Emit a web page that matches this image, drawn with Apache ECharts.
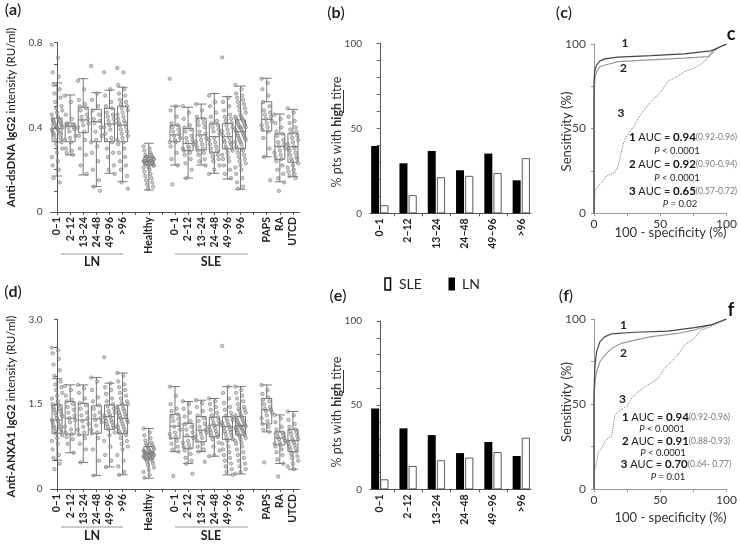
<!DOCTYPE html>
<html><head><meta charset="utf-8">
<script src="https://cdn.jsdelivr.net/npm/echarts@6/dist/echarts.min.js"></script>
<style>html,body{margin:0;padding:0;background:#fff}#c{width:740px;height:544px}</style>
</head><body><div id="c"></div>
<script>
// ---------- categories ----------
const boxSlotLabels = ['0–1','2–12','13–24','24–48','49–96','>96','','Healthy','','0–1','2–12','13–24','24–48','49–96','>96','','PAPS','RA','UTCD'];
const groupSlots = [0,1,2,3,4,5,7,9,10,11,12,13,14,16,17,18];
const barCats = ['0–1','2–12','13–24','24–48','49–96','>96'];
const yTicksA = ['0','0.4','0.8'];
const yTicksD = ['0','1.5','3.0'];

// ---------- panel (a): anti-dsDNA IgG2, individual values ----------
const a_LN01 = [0.79,0.73,0.66,0.64,0.6,0.58,0.56,0.54,0.52,0.5,0.49,0.48,0.47,0.46,0.45,0.44,0.44,0.43,0.43,0.42,0.42,0.41,0.41,0.4,0.4,0.4,0.39,0.39,0.38,0.38,0.37,0.37,0.36,0.35,0.34,0.33,0.32,0.3,0.28,0.26,0.24,0.22,0.2,0.16,0.14];
const a_LN212 = [0.55,0.52,0.46,0.44,0.42,0.41,0.41,0.4,0.4,0.39,0.38,0.36,0.35,0.34,0.33,0.3,0.29,0.28,0.27];
const a_LN1324 = [0.62,0.58,0.53,0.51,0.5,0.49,0.48,0.46,0.45,0.44,0.43,0.42,0.41,0.4,0.38,0.36,0.34,0.3,0.27,0.22,0.18];
const a_LN2448 = [0.69,0.56,0.53,0.5,0.48,0.46,0.44,0.43,0.42,0.4,0.38,0.36,0.34,0.33,0.31,0.28,0.24,0.2,0.15,0.12,0.1];
const a_LN4996 = [0.66,0.58,0.55,0.52,0.5,0.49,0.47,0.46,0.45,0.44,0.43,0.42,0.41,0.4,0.39,0.37,0.35,0.34,0.33,0.3,0.28,0.26,0.22,0.2,0.18];
const a_LN96 = [0.68,0.66,0.6,0.58,0.56,0.55,0.53,0.52,0.51,0.5,0.49,0.48,0.47,0.46,0.45,0.44,0.43,0.42,0.42,0.41,0.4,0.39,0.38,0.37,0.36,0.35,0.34,0.33,0.32,0.3,0.28,0.26,0.24,0.22,0.2,0.17,0.14,0.11];
const a_H = [0.31,0.3,0.29,0.28,0.27,0.27,0.26,0.26,0.26,0.25,0.25,0.25,0.25,0.24,0.24,0.24,0.24,0.24,0.23,0.23,0.23,0.23,0.22,0.22,0.22,0.21,0.21,0.2,0.19,0.18,0.17,0.16,0.15,0.14,0.13,0.12,0.11];
const a_S01 = [0.63,0.5,0.48,0.45,0.42,0.41,0.4,0.39,0.38,0.37,0.36,0.35,0.34,0.33,0.33,0.31,0.28,0.25,0.22,0.13];
const a_S212 = [0.5,0.47,0.44,0.41,0.4,0.39,0.38,0.36,0.35,0.34,0.33,0.32,0.31,0.3,0.3,0.29,0.28,0.27,0.25,0.23,0.2,0.16];
const a_S1324 = [0.51,0.48,0.45,0.44,0.43,0.42,0.41,0.4,0.38,0.37,0.36,0.35,0.34,0.33,0.32,0.31,0.3,0.29,0.28,0.27,0.25,0.24,0.22];
const a_S2448 = [0.55,0.52,0.5,0.47,0.45,0.43,0.42,0.41,0.4,0.39,0.38,0.37,0.35,0.34,0.33,0.32,0.31,0.3,0.29,0.28,0.27,0.26,0.25,0.24,0.22,0.2,0.18];
const a_S4996 = [0.73,0.54,0.52,0.5,0.48,0.46,0.45,0.44,0.43,0.42,0.41,0.4,0.39,0.38,0.37,0.36,0.35,0.34,0.33,0.33,0.32,0.31,0.3,0.3,0.29,0.28,0.27,0.26,0.25,0.24,0.22,0.2,0.18,0.16];
const a_S96 = [0.6,0.58,0.56,0.55,0.54,0.53,0.52,0.51,0.5,0.49,0.48,0.47,0.46,0.45,0.45,0.44,0.44,0.43,0.43,0.42,0.42,0.41,0.41,0.4,0.4,0.4,0.39,0.39,0.38,0.38,0.37,0.37,0.36,0.36,0.35,0.35,0.34,0.34,0.33,0.33,0.32,0.31,0.3,0.3,0.29,0.28,0.27,0.26,0.25,0.24,0.23,0.22,0.21,0.2,0.18,0.16,0.14,0.12,0.11];
const a_PAPS = [0.63,0.61,0.58,0.55,0.52,0.5,0.48,0.47,0.46,0.45,0.44,0.43,0.42,0.41,0.4,0.39,0.38,0.35,0.3,0.26,0.15];
const a_RA = [0.46,0.44,0.42,0.4,0.38,0.37,0.36,0.34,0.33,0.32,0.31,0.3,0.29,0.28,0.27,0.26,0.25,0.24,0.22,0.2,0.18,0.16,0.14,0.1];
const a_UTCD = [0.49,0.47,0.45,0.43,0.42,0.4,0.39,0.38,0.37,0.36,0.35,0.34,0.33,0.32,0.31,0.3,0.3,0.29,0.28,0.27,0.26,0.25,0.25,0.24,0.23,0.22,0.21,0.2,0.19,0.18,0.17,0.16];
// box stats [low whisker, Q1, median, Q3, high whisker]
const a_box = [
  [0.17,0.332,0.395,0.443,0.61],[0.27,0.332,0.406,0.42,0.553],[0.175,0.375,0.435,0.495,0.63],
  [0.12,0.332,0.427,0.485,0.564],[0.183,0.332,0.416,0.49,0.576],[0.143,0.332,0.41,0.5,0.59],
  [0.104,0.222,0.24,0.26,0.325],
  [0.222,0.332,0.364,0.41,0.5],[0.16,0.29,0.324,0.395,0.495],[0.222,0.293,0.364,0.443,0.51],
  [0.183,0.282,0.356,0.416,0.56],[0.156,0.298,0.356,0.419,0.545],[0.107,0.3,0.38,0.435,0.595],
  [0.261,0.383,0.438,0.521,0.632],[0.143,0.249,0.309,0.369,0.463],[0.167,0.235,0.309,0.372,0.485]
];

// ---------- panel (d): anti-ANXA1 IgG2, individual values ----------
const d_LN01 = [2.5,2.45,2.4,2.3,2.2,2.1,2.0,1.9,1.85,1.8,1.75,1.7,1.65,1.6,1.55,1.5,1.48,1.45,1.42,1.4,1.38,1.35,1.32,1.3,1.28,1.25,1.22,1.2,1.18,1.15,1.12,1.1,1.08,1.05,1.02,1.0,0.98,0.95,0.9,0.85,0.8,0.7,0.6,0.55,0.45,0.35];
const d_LN212 = [1.82,1.75,1.65,1.58,1.55,1.5,1.45,1.4,1.35,1.3,1.25,1.22,1.18,1.1,1.05,1.0,0.97,0.92,0.88,0.8,0.64];
const d_LN1324 = [1.84,1.78,1.7,1.6,1.52,1.48,1.42,1.35,1.3,1.25,1.2,1.15,1.1,1.05,1.0,0.96,0.9,0.8,0.7,0.47];
const d_LN2448 = [1.97,1.9,1.75,1.62,1.55,1.48,1.42,1.35,1.3,1.25,1.22,1.18,1.12,1.05,1.0,0.98,0.9,0.7,0.5,0.24];
const d_LN4996 = [2.33,1.87,1.8,1.75,1.68,1.6,1.55,1.5,1.46,1.42,1.38,1.35,1.32,1.3,1.28,1.25,1.22,1.2,1.18,1.15,1.12,1.1,1.08,1.05,1.0,0.95,0.85,0.75,0.6,0.5,0.39];
const d_LN96 = [2.05,2.0,1.9,1.85,1.8,1.75,1.7,1.65,1.6,1.55,1.52,1.5,1.48,1.45,1.42,1.4,1.38,1.35,1.32,1.3,1.28,1.25,1.22,1.2,1.18,1.15,1.12,1.1,1.08,1.05,1.02,1.0,0.98,0.95,0.9,0.85,0.8,0.75,0.7,0.6,0.5,0.4,0.3,0.25];
const d_H = [1.07,1.0,0.95,0.9,0.86,0.82,0.8,0.78,0.76,0.74,0.72,0.7,0.7,0.68,0.67,0.66,0.65,0.64,0.64,0.63,0.62,0.62,0.61,0.6,0.6,0.59,0.58,0.57,0.56,0.55,0.54,0.53,0.52,0.5,0.48,0.45,0.42,0.38,0.34,0.3,0.25,0.2];
const d_S01 = [1.81,1.65,1.5,1.42,1.38,1.32,1.28,1.24,1.2,1.15,1.1,1.05,1.0,0.97,0.93,0.9,0.85,0.8,0.75,0.7,0.66,0.23];
const d_S212 = [1.55,1.5,1.42,1.35,1.28,1.2,1.15,1.1,1.05,1.0,0.95,0.9,0.85,0.82,0.78,0.75,0.72,0.68,0.62,0.55,0.5,0.45,0.27];
const d_S1324 = [1.57,1.52,1.45,1.38,1.3,1.25,1.2,1.15,1.1,1.05,1.02,1.0,0.97,0.93,0.9,0.85,0.8,0.75,0.7,0.66,0.48];
const d_S2448 = [1.6,1.55,1.5,1.45,1.4,1.35,1.3,1.27,1.24,1.2,1.17,1.14,1.12,1.1,1.08,1.05,1.02,1.0,0.97,0.94,0.92,0.88,0.82,0.75,0.68,0.6,0.58];
const d_S4996 = [2.53,1.81,1.7,1.6,1.52,1.45,1.4,1.35,1.3,1.28,1.25,1.22,1.2,1.17,1.14,1.12,1.1,1.08,1.05,1.02,1.0,0.97,0.94,0.9,0.88,0.85,0.8,0.75,0.7,0.65,0.6,0.55,0.5,0.45,0.4,0.35,0.3,0.25];
const d_S96 = [1.81,1.75,1.7,1.65,1.6,1.55,1.5,1.45,1.42,1.4,1.38,1.35,1.32,1.3,1.28,1.26,1.24,1.22,1.2,1.18,1.16,1.14,1.13,1.12,1.11,1.1,1.09,1.08,1.06,1.05,1.04,1.02,1.0,0.98,0.96,0.95,0.93,0.9,0.88,0.85,0.82,0.8,0.75,0.7,0.65,0.6,0.55,0.5,0.45,0.4,0.35,0.3,0.27];
const d_PAPS = [1.84,1.75,1.68,1.62,1.58,1.55,1.5,1.45,1.42,1.4,1.38,1.35,1.3,1.25,1.2,1.15,1.1,1.05,1.01,0.47];
const d_RA = [1.31,1.25,1.18,1.1,1.05,1.0,0.98,0.95,0.92,0.9,0.88,0.85,0.82,0.8,0.78,0.75,0.7,0.65,0.6,0.52,0.45,0.22];
const d_UTCD = [1.37,1.3,1.22,1.15,1.1,1.05,1.02,1.0,0.97,0.94,0.9,0.88,0.86,0.84,0.82,0.8,0.78,0.75,0.72,0.7,0.66,0.62,0.58,0.55,0.5,0.45,0.4,0.35];
const d_box = [
  [0.51,0.984,1.22,1.485,1.95],[0.64,0.97,1.25,1.544,1.84],[0.47,0.955,1.22,1.515,1.84],
  [0.24,0.984,1.24,1.47,1.97],[0.39,1.055,1.28,1.485,1.87],[0.25,0.984,1.25,1.485,2.05],
  [0.19,0.54,0.64,0.75,1.07],
  [0.66,0.896,1.11,1.32,1.81],[0.45,0.72,0.925,1.16,1.545],[0.66,0.837,1.04,1.28,1.57],
  [0.58,0.925,1.13,1.27,1.6],[0.25,0.878,1.1,1.28,1.81],[0.265,0.955,1.12,1.28,1.81],
  [1.01,1.15,1.4,1.6,1.84],[0.45,0.78,0.9,1.01,1.31],[0.35,0.66,0.855,1.055,1.37]
];

// ---------- panels (b), (e): % pts with high titre ----------
const b_LN = [39.6,29.4,36.7,25.3,35.1,19.4];
const b_SLE = [4.7,10.6,21.2,22.0,23.7,32.4];
const e_LN = [48.0,36.2,32.2,21.5,28.1,19.8];
const e_SLE = [5.9,13.8,17.2,18.8,22.1,30.6];

// ---------- panels (c), (f): ROC curves [100-specificity, sensitivity] ----------
const c_roc1 = [[0,0],[0,78],[0.3,82],[0.8,85],[2,87.6],[4.5,90],[8,91.2],[18,92.2],[43,93.1],[68,94.1],[88,95.9],[93,97.5],[100,100]];
const c_roc2 = [[0,0],[0,70],[0.75,79.8],[2,83.7],[4.5,86.7],[10.75,88],[18,89.6],[43,90.6],[68,91.6],[86,92.5],[89.5,95.5],[93,97.8],[100,100]];
const c_roc3 = [[0,0],[0.75,13],[3.25,16],[7,19],[9.5,22],[15.75,24],[18.25,28],[22,40.6],[23.25,43.5],[25.75,46.5],[30.75,52],[33.25,56],[40.75,64],[45.75,68],[50.75,72],[55.75,78],[63.25,80.8],[68.25,83.7],[75.75,85.7],[83.25,89.6],[88.25,93.5],[93.25,97.5],[100,100]];
const f_roc1 = [[0,0],[0,55],[0.25,63.1],[0.75,72.9],[2,80.8],[4.5,86.7],[8.25,89.6],[13.25,91.2],[30.75,92.2],[55.75,92.9],[75.75,94.9],[88.25,96.5],[100,100]];
const f_roc2 = [[0,0],[0,52],[0.75,63],[2,69],[4.5,75],[8.25,78.8],[13.25,82.7],[20.75,85.7],[30.75,87.6],[43.25,89.6],[63.25,91.6],[75.75,93.5],[88.25,96.5],[100,100]];
const f_roc3 = [[0,0],[0.25,10],[2,16],[3.25,22],[5.75,24],[8.25,28],[10.75,30],[13.25,30.8],[15.75,43.5],[18.25,45.5],[25.75,49.4],[28.25,53.3],[33.25,57.3],[40.75,61.2],[48.25,65],[53.25,71],[58.25,75],[63.25,78.8],[68.25,84.7],[75.75,88.6],[80.75,93.5],[88.25,95.5],[100,100]];

// ---------- build ----------
const FONT = 'Lato';
const aGroups = [a_LN01,a_LN212,a_LN1324,a_LN2448,a_LN4996,a_LN96,a_H,a_S01,a_S212,a_S1324,a_S2448,a_S4996,a_S96,a_PAPS,a_RA,a_UTCD];
const dGroups = [d_LN01,d_LN212,d_LN1324,d_LN2448,d_LN4996,d_LN96,d_H,d_S01,d_S212,d_S1324,d_S2448,d_S4996,d_S96,d_PAPS,d_RA,d_UTCD];

function boxData(stats){
  const out = boxSlotLabels.map(()=> '-');
  stats.forEach((s,gi)=>{ out[groupSlots[gi]] = s; });
  return out;
}
function dots(groups){
  const pts = [];
  groups.forEach((g,gi)=>{
    const s = groupSlots[gi];
    g.forEach((v,i)=>{ pts.push([s + (((i*7)%13)/12 - 0.5)*0.8, v]); });
  });
  return pts;
}
const slotIdx = boxSlotLabels.map((_,i)=>String(i));

const axisLineDark = {lineStyle:{color:'#555', width:1}};
const axisLineGrey = {lineStyle:{color:'#999', width:1}};

function boxCatAxis(grid){
  return {type:'category', gridIndex:grid, data:slotIdx, boundaryGap:true,
    axisLine:axisLineDark, axisTick:{show:true, interval:0, alignWithLabel:true, length:3, lineStyle:{color:'#555'}},
    axisLabel:{interval:0, rotate:90, margin:5, fontFamily:FONT, fontWeight:'bold', fontSize:10.5, color:'#222',
      formatter:(v,i)=>boxSlotLabels[i]},
    splitLine:{show:false}};
}
function hiddenX(grid){ return {type:'value', gridIndex:grid, min:-0.5, max:18.5, show:false}; }
function barX(grid){
  return {type:'value', gridIndex:grid, min:-0.345, max:5.345, axisLine:{onZero:false, ...axisLineDark},
    axisTick:{show:true, length:3, customValues:[0.5,1.5,2.5,3.5,4.5], lineStyle:{color:'#555'}},
    axisLabel:{customValues:[0,1,2,3,4,5], rotate:90, margin:5, fontFamily:FONT, fontWeight:'bold', fontSize:10.5, color:'#222',
      formatter:(v)=>barCats[Math.round(v)]},
    splitLine:{show:false}};
}
function rocX(grid){
  return {type:'value', gridIndex:grid, min:0, max:100, interval:25, axisLine:axisLineGrey,
    axisTick:{show:true, length:3, lineStyle:{color:'#999'}},
    axisLabel:{fontFamily:FONT, fontSize:12, color:'#333', margin:5, formatter:(v)=> v%50===0? String(v):''},
    splitLine:{show:false}};
}
function yVal(grid, max, interval, fmt, lineCfg, fs){
  return {type:'value', gridIndex:grid, min:0, max:max, interval:interval, axisLine:{show:true, ...lineCfg},
    axisTick:{show:true, length:3, lineStyle:{color:lineCfg.lineStyle.color}},
    axisLabel:{fontFamily:FONT, fontSize:fs, color:'#444', margin:8, formatter:fmt},
    splitLine:{show:false}};
}
const fmtA = v => { const r = Math.round(v*10); return r===0?yTicksA[0]:r===4?yTicksA[1]:r===8?yTicksA[2]:''; };
const fmtD = v => { const r = Math.round(v*10); return r===0?yTicksD[0]:r===15?yTicksD[1]:r===30?yTicksD[2]:''; };
const fmtP = v => (v===0||v===50||v===100)? String(v):'';

const boxStyle = {color:'rgba(255,255,255,0)', borderColor:'#555', borderWidth:0.8};
const dotStyle = {color:'rgba(170,170,170,0.7)', borderColor:'#5e5e5e', borderWidth:0.6};

function barSeries(name, data, xi, yi, isLN){
  return {type:'bar', name:name, xAxisIndex:xi, yAxisIndex:yi, barWidth:8, barGap:'15%',
    data:data.map((v,i)=>[i,v]),
    itemStyle: isLN ? {color:'#000'} : {color:'#fff', borderColor:'#333', borderWidth:0.8}};
}
function rocSeries(data, xi, yi, color, w, type){
  return {type:'line', xAxisIndex:xi, yAxisIndex:yi, data:data, showSymbol:false, symbol:'none',
    lineStyle:{color:color, width:w, type:type}, z:3};
}

// text helpers
function txt(x, y, text, opts){
  opts = opts || {};
  return {type:'text', x:x, y:y, rotation:opts.rot||0, silent:true, z:100,
    style:{text:text, fontFamily:FONT, fontSize:opts.fs||12, fontWeight:opts.fw||'normal', fill:opts.fill||'#222',
      align:opts.align||'center', verticalAlign:'middle', textAlign:opts.align||'center', textVerticalAlign:'middle',
      rich:opts.rich}};
}
function line(x1,y1,x2,y2,color,w){
  return {type:'line', silent:true, z:100, shape:{x1:x1,y1:y1,x2:x2,y2:y2}, style:{stroke:color||'#888', lineWidth:w||1}};
}
const aucRich = {
  b:{fontWeight:'bold', fontFamily:FONT, fontSize:11.5, fill:'#111', color:'#111'},
  n:{fontFamily:FONT, fontSize:11, fill:'#222', color:'#222'},
  s:{fontFamily:FONT, fontSize:8.5, fill:'#777', color:'#777'}
};
const pRich = {i:{fontStyle:'italic', fontFamily:FONT, fontSize:9.5, color:'#333'}, n:{fontFamily:FONT, fontSize:9.5, color:'#333'}};
function panelLabel(x,y,l){ return txt(x,y,'{n|(}{b|'+l+'}{n|)}',{rich:{n:{fontFamily:FONT,fontSize:16,color:'#111'},b:{fontFamily:FONT,fontSize:16,fontWeight:'bold',color:'#111'}}}); }
function auc(x,y,num,auc,ci){ return txt(x,y,'{b|'+num+'}{n| AUC = }{b|'+auc+'}{s|('+ci+')}',{rich:aucRich}); }
function pval(x,y,s){ return txt(x,y,'{i|P}{n|'+s+'}',{rich:pRich}); }
const nameRich = {b:{fontWeight:'bold',fontFamily:FONT,fontSize:11.6}};

const graphics = [
  panelLabel(13,10,'a'), panelLabel(336,13,'b'), panelLabel(564,13,'c'),
  panelLabel(13,292,'d'), panelLabel(338,296,'e'), panelLabel(566,296,'f'),
  txt(731,34,'c',{fs:18,fw:'bold',fill:'#111'}), txt(731,310,'f',{fs:18,fw:'bold',fill:'#111'}),
  // y axis names
  txt(11,117.5,'{b|Anti-dsDNA IgG2} intensity (RU/ml)',{rot:Math.PI/2, fs:11.6, rich:nameRich}),
  txt(11,406.5,'{b|Anti-ANXA1 IgG2} intensity (RU/ml)',{rot:Math.PI/2, fs:11.6, rich:nameRich}),
  txt(337,132,'% pts with {b|high} titre',{rot:Math.PI/2, fs:12.5, fill:'#333', rich:{b:{fontWeight:'bold',fontFamily:FONT,fontSize:12.5}}}),
  txt(337,412,'% pts with {b|high} titre',{rot:Math.PI/2, fs:12.5, fill:'#333', rich:{b:{fontWeight:'bold',fontFamily:FONT,fontSize:12.5}}}),
  line(343.5,90,343.5,113,'#333',1), line(343.5,370,343.5,393,'#333',1),
  txt(567,131.5,'Sensitivity (%)',{rot:Math.PI/2, fs:13, fill:'#333'}),
  txt(567,402,'Sensitivity (%)',{rot:Math.PI/2, fs:13, fill:'#333'}),
  txt(670.5,233,'100 - specificity (%)',{fs:13, fill:'#333'}),
  txt(670.5,518,'100 - specificity (%)',{fs:13, fill:'#333'}),
  // group brackets
  line(61,254,123,254,'#999',1), txt(92,262,'LN',{fs:12.5,fw:'bold'}),
  line(175,254,248,254,'#999',1), txt(211,262,'SLE',{fs:12.5,fw:'bold'}),
  line(61,527,123,527,'#999',1), txt(92,536,'LN',{fs:12.5,fw:'bold'}),
  line(175,527,248,527,'#999',1), txt(211,536,'SLE',{fs:12.5,fw:'bold'}),
  // legend
  {type:'rect', silent:true, z:100, shape:{x:385,y:278,width:5.5,height:12}, style:{fill:'#fff', stroke:'#000', lineWidth:1.5}},
  txt(399,284,'SLE',{fs:14, align:'left'}),
  {type:'rect', silent:true, z:100, shape:{x:448.5,y:277.5,width:6.5,height:13}, style:{fill:'#000'}},
  txt(462,284,'LN',{fs:14, align:'left'}),
  // ROC annotations (c)
  txt(625,43,'1',{fs:12,fw:'bold'}), txt(623.5,68.5,'2',{fs:12,fw:'bold'}), txt(621,113,'3',{fs:12,fw:'bold'}),
  auc(683,137.5,'1','0.94','0.92-0.96'), pval(677,151,' < 0.0001'),
  auc(683,164.5,'2','0.92','0.90-0.94'), pval(677,177.5,' < 0.0001'),
  auc(683,191,'3','0.65','0.57-0.72'), pval(680,204,' = 0.02'),
  // ROC annotations (f)
  txt(623.5,325,'1',{fs:12,fw:'bold'}), txt(623.5,353.5,'2',{fs:12,fw:'bold'}), txt(622.5,399.5,'3',{fs:12,fw:'bold'}),
  auc(676,417,'1','0.94','0.92-0.96'), pval(662,428.5,' < 0.0001'),
  auc(676,441,'2','0.91','0.88-0.93'), pval(663,452.5,' < 0.0001'),
  auc(676,464.5,'3','0.70','0.64- 0.77'), pval(668,477,' = 0.01')
];

const option = {
  animation:false,
  backgroundColor:'#fff',
  textStyle:{fontFamily:FONT},
  grid:[
    {left:50.5, top:42.7, width:249, height:169.3},
    {left:370, top:43.3, width:161, height:170},
    {left:594, top:44, width:133, height:169},
    {left:50.5, top:319.3, width:249, height:169.7},
    {left:370, top:321, width:161, height:168.3},
    {left:594, top:319, width:133, height:170}
  ],
  xAxis:[ boxCatAxis(0), hiddenX(0), barX(1), rocX(2), boxCatAxis(3), hiddenX(3), barX(4), rocX(5) ],
  yAxis:[
    yVal(0,0.8,0.1,fmtA,axisLineDark,10),
    yVal(1,100,10,fmtP,axisLineDark,10),
    yVal(2,100,25,(v)=> v%50===0?String(v):'',axisLineGrey,12),
    yVal(3,3.0,0.5,fmtD,axisLineDark,10),
    yVal(4,100,10,fmtP,axisLineDark,10),
    yVal(5,100,25,(v)=> v%50===0?String(v):'',axisLineGrey,12)
  ],
  series:[
    {type:'boxplot', xAxisIndex:0, yAxisIndex:0, data:boxData(a_box), boxWidth:[10,10], itemStyle:boxStyle, z:2},
    {type:'scatter', xAxisIndex:1, yAxisIndex:0, data:dots(aGroups), symbolSize:3.4, itemStyle:dotStyle, z:3},
    barSeries('LN', b_LN, 2, 1, true), barSeries('SLE', b_SLE, 2, 1, false),
    rocSeries(c_roc3, 3, 2, '#777', 1, 'dotted'),
    rocSeries(c_roc2, 3, 2, '#999', 1.2, 'solid'),
    rocSeries(c_roc1, 3, 2, '#444', 1.2, 'solid'),
    {type:'boxplot', xAxisIndex:4, yAxisIndex:3, data:boxData(d_box), boxWidth:[10,10], itemStyle:boxStyle, z:2},
    {type:'scatter', xAxisIndex:5, yAxisIndex:3, data:dots(dGroups), symbolSize:3.4, itemStyle:dotStyle, z:3},
    barSeries('LN', e_LN, 6, 4, true), barSeries('SLE', e_SLE, 6, 4, false),
    rocSeries(f_roc3, 7, 5, '#777', 1, 'dotted'),
    rocSeries(f_roc2, 7, 5, '#999', 1.2, 'solid'),
    rocSeries(f_roc1, 7, 5, '#444', 1.2, 'solid')
  ],
  graphic: graphics
};
const chart = echarts.init(document.getElementById('c'), null, {renderer:'canvas', width:740, height:544});
chart.setOption(option);
</script>
</body></html>
